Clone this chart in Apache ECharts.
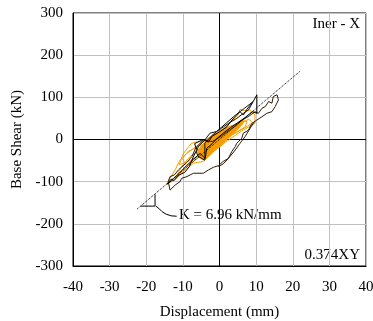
<!DOCTYPE html>
<html><head><meta charset="utf-8">
<script src="https://cdn.jsdelivr.net/npm/echarts@6/dist/echarts.min.js"></script>
<style>html,body{margin:0;padding:0;background:#fff}#c{width:373px;height:321px}</style>
</head><body><div id="c"></div>
<script>
var xTicks = [-40,-30,-20,-10,0,10,20,30,40];
var yTicks = [-300,-200,-100,0,100,200,300];

var outerLoop = [[-14,-100],[-13.5,-120],[-12.1,-108],[-10.8,-100],[-10.3,-92],[-8.9,-88],[-7.1,-80],[-4.4,-80],[-3,-72],[-1.7,-66],[-0.3,-62],[1,-52],[2.4,-45],[3.4,-28],[4.3,-17],[4.7,-9],[6.1,3],[6.5,15],[7.9,22],[8.8,38],[10.2,46],[11.6,54],[12.9,62],[14.3,66],[15.2,78],[16.1,94],[15.7,106],[14.7,102],[14.3,86],[13.4,90],[12.5,78],[11.6,74],[10.6,62],[9.7,66],[8,55],[6,45],[4,30],[2,18],[0,5],[-2,-5],[-4.4,-1],[-5.3,-9],[-6.5,-20],[-7.5,-40],[-9,-55],[-11.2,-72],[-12.3,-84],[-12.6,-80],[-13.5,-88],[-14,-100]];
var innerLower = [[-0.3,-64],[1,-58],[2.4,-45],[4.3,-25],[5.6,-9],[7,7],[8.4,27],[9.5,42]];

var blackLoop1 = [[-14.3,-106],[-13.2,-94],[-12.5,-98],[-11,-84],[-9.5,-78],[-8.2,-64],[-7.2,-42],[-6.2,-24],[-6.8,-10],[-5,-2],[-4.4,-1],[-3,-6],[-2,8],[0,18],[2,30],[3,42],[4.3,55],[5.6,66],[6.5,58],[7.5,72],[9.2,90],[10.2,106],[10.2,62],[9,66],[7,52],[5,40],[3,28],[1,15],[-1,0],[-2,-10],[-3.5,-21],[-3.9,-45],[-5.3,-33],[-7,-46],[-9,-62],[-11,-80],[-13,-97],[-14.3,-106]];
var blackLoop2 = [[-6.3,-30],[-5.8,-17],[-4,-1],[-2.6,15],[-0.8,19],[0.6,27],[2.4,38],[4.7,50],[6.5,62],[7.9,70],[9.2,90],[5.6,66],[3.8,54],[2,40],[0,25],[-2,10],[-4,-9],[-4,-49],[-5.8,-40],[-6.3,-30]];

var orangeLoop1 = [[-14.4,-104],[-12.1,-72],[-10.8,-49],[-8.9,-33],[-7.1,-21],[-5,-8],[-3,4],[-1,14],[1,25],[3,40],[5,58],[5.6,72],[7,68],[8.4,70],[9.7,58],[9.7,38],[8,30],[6,20],[4,8],[2,-4],[0,-18],[-2,-30],[-4.4,-52],[-7.1,-56],[-9,-70],[-11,-85],[-13,-100],[-14.4,-104]];
var orangeLoop2 = [[-9,-62],[-10.2,-45],[-8.5,-28],[-6,-18],[-3,-4],[0,12],[3,28],[6,46],[7.5,42],[7,30],[4,14],[1,0],[-2,-16],[-5,-34],[-7.1,-49],[-9,-62]];
var orangeLoop3 = [[-12,-90],[-10,-60],[-8,-40],[-6,-30],[-4,-20],[-2,-6],[0,8],[2,20],[4,32],[6,40],[8,48],[9,40],[7,28],[4,14],[1,-2],[-2,-18],[-5,-38],[-8,-58],[-12,-90]];
var orangeLoop4 = [[-11,-60],[-10,-35],[-8.7,-20],[-7.6,-9],[-6,-5],[-4,-6],[-3.5,-16],[-5,-34],[-8,-50],[-11,-60]];
var orangeBand = [[-5.8,-25],[-4.5,-10],[-3,3],[-1.5,12],[-0.3,19],[1,25],[2.4,30],[4,35],[5.2,38],[6.1,46],[6.6,40],[5.6,30],[4.3,19],[2.4,3],[0.6,-13],[-1.2,-25],[-3,-41],[-4.4,-49],[-5.8,-41]];

var kLine = [[-22.5,-165],[22,162]];
var kTriangle = [[-21.5,-158],[-17.6,-158],[-17.6,-130]];
var kLeader = [[-17.4,-158],[-16.6,-163],[-15.7,-171],[-14.6,-177],[-13.2,-181],[-11.7,-182]];
var zeroV = [[0,-300],[0,300]];
var zeroH = [[-40,0],[40,0]];

var font = 'Liberation Serif';
var chart = echarts.init(document.getElementById('c'), null, {renderer:'canvas'});
function ln(data, color, width, type, z){
  return {type:'line', data:data, showSymbol:false, symbol:'none', silent:true, animation:false,
    lineStyle:{color:color, width:width, type:type||'solid', join:'round'}, z:z||2};
}
chart.setOption({
  animation:false,
  grid:{left:73, right:7, top:13, bottom:55, show:true, borderColor:'#000', borderWidth:1, outerBoundsMode:'none', containLabel:false},
  xAxis:{type:'value', min:-40, max:40, interval:10,
    name:'Displacement (mm)', nameLocation:'middle', nameGap:39,
    nameTextStyle:{fontFamily:font, fontSize:15, color:'#000'},
    axisLine:{onZero:false, lineStyle:{color:'#000'}}, axisTick:{show:false},
    axisLabel:{fontFamily:font, fontSize:15, color:'#000', margin:14},
    splitLine:{lineStyle:{color:'#c0c0c0', width:1}}},
  yAxis:{type:'value', min:-300, max:300, interval:100,
    name:'Base Shear (kN)', nameLocation:'middle', nameGap:48,
    nameTextStyle:{fontFamily:font, fontSize:15, color:'#000'},
    axisLine:{onZero:false, lineStyle:{color:'#000'}}, axisTick:{show:false},
    axisLabel:{fontFamily:font, fontSize:15, color:'#000', margin:10},
    splitLine:{lineStyle:{color:'#c0c0c0', width:1}}},
  series:[
    ln(zeroV,'#000',1),
    ln(zeroH,'#000',1),
    {type:'custom', coordinateSystem:'cartesian2d', data:[[0,0]], silent:true, z:3,
      renderItem:function(params, api){
        var pts = orangeBand.map(function(p){ return api.coord(p); });
        return {type:'polygon', shape:{points:pts}, style:{fill:'#f59a00', stroke:'#f59a00', lineWidth:1}};
      }},
    ln(orangeLoop1,'#f5a000',1,'solid',3),
    ln(orangeLoop2,'#f5a000',1,'solid',3),
    ln(orangeLoop3,'#f5a000',1,'solid',3),
    ln(orangeLoop4,'#f5a000',1,'solid',3),
    ln(outerLoop,'#2e1a05',1,'solid',4),
    ln(innerLower,'#2e1a05',1,'solid',4),
    ln(blackLoop1,'#000',1,'solid',5),
    ln(blackLoop2,'#111',1,'solid',5),
    ln(kLine,'#000',1,'dotted',6),
    ln(kTriangle,'#000',1,'solid',6),
    ln(kLeader,'#000',1,'solid',6)
  ],
  graphic:[
    {type:'text', right:13, top:17, style:{text:'Iner - X', font:'15px "Liberation Serif"', fill:'#000'}},
    {type:'text', right:13, top:248, style:{text:'0.374XY', font:'15px "Liberation Serif"', fill:'#000'}},
    {type:'text', left:179, top:208, style:{text:'K = 6.96 kN/mm', font:'15px "Liberation Serif"', fill:'#000'}}
  ]
});
</script></body></html>
